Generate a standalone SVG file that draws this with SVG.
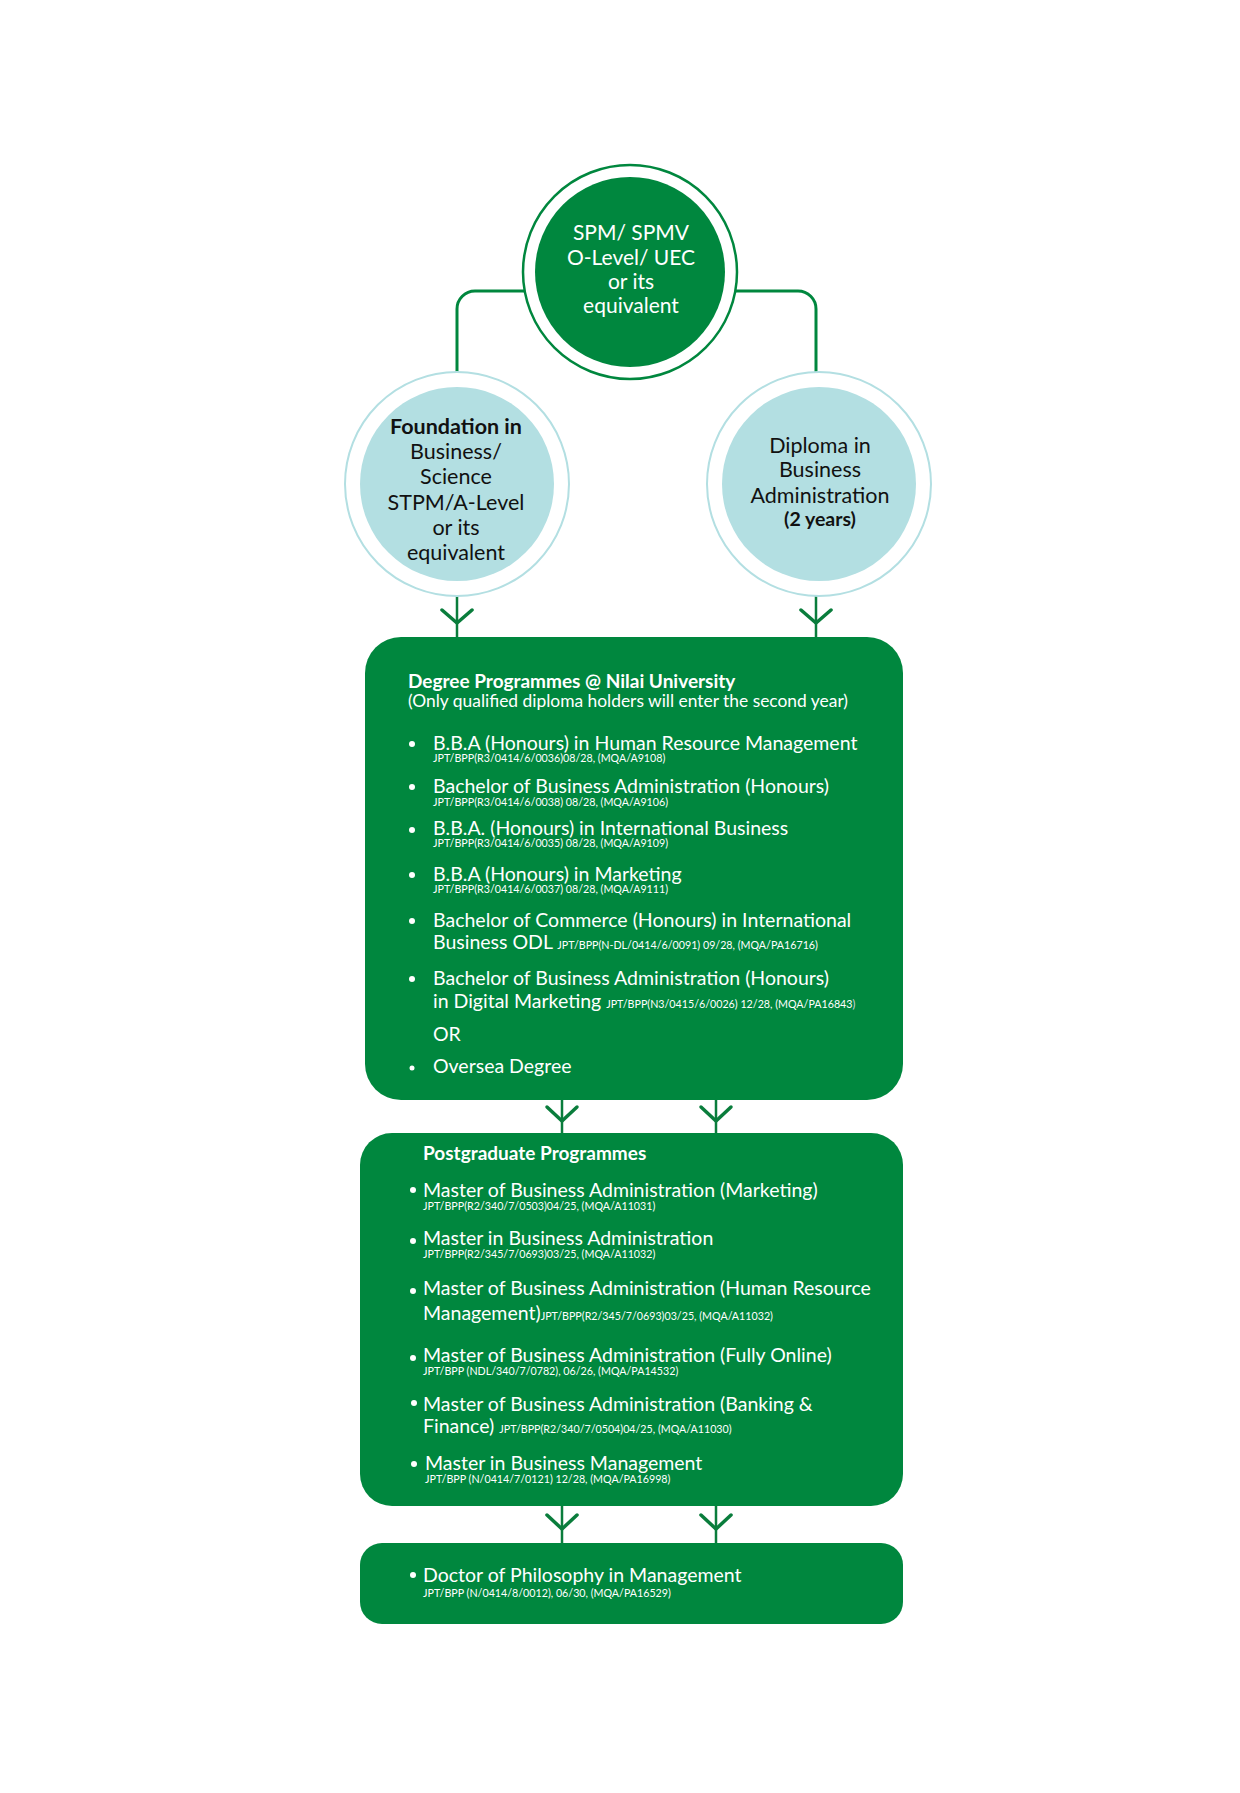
<svg xmlns="http://www.w3.org/2000/svg" width="1240" height="1793" viewBox="0 0 1240 1793">
<style>
text{font-family:Lato,"Open Sans","Liberation Sans",sans-serif}
.ct{font-size:21px;fill:#ffffff;text-anchor:middle}
.lt{font-size:21.5px;fill:#111111;text-anchor:middle}
.b{font-weight:700}
.h{font-size:19px;font-weight:700;fill:#ffffff}
.s{font-size:17.4px;fill:#ffffff}
.i{font-size:19.5px;fill:#ffffff}
.c{font-size:10.7px;fill:#ffffff}
.conn{fill:none;stroke:#00873e;stroke-width:3}
.ln{fill:none;stroke:#0a7d3c;stroke-width:2.5}
.chev{fill:none;stroke:#0a7d3c;stroke-width:3.5;stroke-linecap:round;stroke-linejoin:round}
.box{fill:#00873e}
.dot{fill:#ffffff}
</style>
<rect width="1240" height="1793" fill="#ffffff"/>
<g id="connectors">
<path class="conn" d="M524,291 H475 A18,18 0 0 0 457,309 V388"/>
<path class="conn" d="M736,291 H798 A18,18 0 0 1 816,309 V388"/>
<path class="ln" d="M457,580 V637 M816,580 V637"/>
<path class="chev" d="M442,610 L457,623 L472,610 M801,610 L816,623 L831,610"/>
<path class="ln" d="M562,1099 V1134 M716,1099 V1134"/>
<path class="chev" d="M547,1107 L562,1121 L577,1107 M701,1107 L716,1121 L731,1107"/>
<path class="ln" d="M562,1505 V1544 M716,1505 V1544"/>
<path class="chev" d="M547,1515 L562,1529 L577,1515 M701,1515 L716,1529 L731,1515"/>
</g>
<g id="entry">
<circle cx="630" cy="272" r="107" fill="#ffffff" stroke="#00873e" stroke-width="2.5"/>
<circle cx="630" cy="272" r="95" fill="#00873e"/>
<text class="ct" x="631" y="240">SPM/ SPMV</text>
<text class="ct" x="631" y="265">O-Level/ UEC</text>
<text class="ct" x="631" y="289">or its</text>
<text class="ct" x="631" y="313">equivalent</text>
</g>
<g id="foundation">
<circle cx="457" cy="484" r="112" fill="#ffffff" stroke="#b3dfe2" stroke-width="2"/>
<circle cx="457" cy="484" r="97" fill="#b3dfe2"/>
<text class="lt b" x="456" y="434">Foundation in</text>
<text class="lt" x="456" y="459">Business/</text>
<text class="lt" x="456" y="484">Science</text>
<text class="lt" x="456" y="510">STPM/A-Level</text>
<text class="lt" x="456" y="535">or its</text>
<text class="lt" x="456" y="560">equivalent</text>
</g>
<g id="diploma">
<circle cx="819" cy="484" r="112" fill="#ffffff" stroke="#b3dfe2" stroke-width="2"/>
<circle cx="819" cy="484" r="97" fill="#b3dfe2"/>
<text class="lt" x="820" y="453">Diploma in</text>
<text class="lt" x="820" y="477">Business</text>
<text class="lt" x="820" y="503">Administration</text>
<text class="lt b" x="820" y="526" style="font-size:19.5px">(2 years)</text>
</g>
<g id="degree">
<rect class="box" x="365" y="637" width="538" height="463" rx="36"/>
<text class="h" x="408" y="688">Degree Programmes @ Nilai University</text>
<text class="s" x="408" y="707">(Only qualified diploma holders will enter the second year)</text>
<circle class="dot" cx="412" cy="744" r="3"/>
<text class="i" x="433" y="750">B.B.A (Honours) in Human Resource Management</text>
<text class="c" x="433" y="762">JPT/BPP(R3/0414/6/0036)08/28, (MQA/A9108)</text>
<circle class="dot" cx="412" cy="787" r="3"/>
<text class="i" x="433" y="793">Bachelor of Business Administration (Honours)</text>
<text class="c" x="433" y="806">JPT/BPP(R3/0414/6/0038) 08/28, (MQA/A9106)</text>
<circle class="dot" cx="412" cy="830" r="3"/>
<text class="i" x="433" y="835">B.B.A. (Honours) in International Business</text>
<text class="c" x="433" y="847">JPT/BPP(R3/0414/6/0035) 08/28, (MQA/A9109)</text>
<circle class="dot" cx="412" cy="875" r="3"/>
<text class="i" x="433" y="881">B.B.A (Honours) in Marketing</text>
<text class="c" x="433" y="893">JPT/BPP(R3/0414/6/0037) 08/28, (MQA/A9111)</text>
<circle class="dot" cx="412" cy="921" r="3"/>
<text class="i" x="433" y="927">Bachelor of Commerce (Honours) in International</text>
<text class="i" x="433" y="949">Business ODL <tspan class="c">JPT/BPP(N-DL/0414/6/0091) 09/28, (MQA/PA16716)</tspan></text>
<circle class="dot" cx="412" cy="979" r="3"/>
<text class="i" x="433" y="985">Bachelor of Business Administration (Honours)</text>
<text class="i" x="433" y="1008">in Digital Marketing <tspan class="c">JPT/BPP(N3/0415/6/0026) 12/28, (MQA/PA16843</tspan><tspan class="c" style="fill:#d8cfe0">)</tspan></text>
<text class="i" x="433" y="1041">OR</text>
<circle class="dot" cx="412" cy="1068" r="2.5"/>
<text class="i" x="433" y="1073">Oversea Degree</text>
</g>
<g id="postgraduate">
<rect class="box" x="360" y="1133" width="543" height="373" rx="32"/>
<text class="h" x="423" y="1160">Postgraduate Programmes</text>
<circle class="dot" cx="413" cy="1190" r="3"/>
<text class="i" x="423" y="1197">Master of Business Administration (Marketing)</text>
<text class="c" x="423" y="1210">JPT/BPP(R2/340/7/0503)04/25, (MQA/A11031)</text>
<circle class="dot" cx="413" cy="1241" r="3"/>
<text class="i" x="423" y="1245">Master in Business Administration</text>
<text class="c" x="423" y="1258">JPT/BPP(R2/345/7/0693)03/25, (MQA/A11032)</text>
<circle class="dot" cx="413" cy="1291" r="3"/>
<text class="i" x="423" y="1295">Master of Business Administration (Human Resource</text>
<text class="i" x="423" y="1320">Management)<tspan class="c">JPT/BPP(R2/345/7/0693)03/25, (MQA/A11032)</tspan></text>
<circle class="dot" cx="413" cy="1358" r="3"/>
<text class="i" x="423" y="1362">Master of Business Administration (Fully Online)</text>
<text class="c" x="423" y="1375">JPT/BPP (NDL/340/7/0782), 06/26, (MQA/PA14532)</text>
<circle class="dot" cx="414" cy="1403" r="3"/>
<text class="i" x="423" y="1411">Master of Business Administration (Banking &amp;</text>
<text class="i" x="423" y="1433">Finance) <tspan class="c">JPT/BPP(R2/340/7/0504)04/25, (MQA/A11030)</tspan></text>
<circle class="dot" cx="414" cy="1464" r="3"/>
<text class="i" x="425" y="1470">Master in Business Management</text>
<text class="c" x="425" y="1483">JPT/BPP (N/0414/7/0121) 12/28, (MQA/PA16998)</text>
</g>
<g id="doctorate">
<rect class="box" x="360" y="1543" width="543" height="81" rx="22"/>
<circle class="dot" cx="413" cy="1575" r="3"/>
<text class="i" x="423" y="1582">Doctor of Philosophy in Management</text>
<text class="c" x="423" y="1597">JPT/BPP (N/0414/8/0012), 06/30, (MQA/PA16529)</text>
</g>
</svg>
